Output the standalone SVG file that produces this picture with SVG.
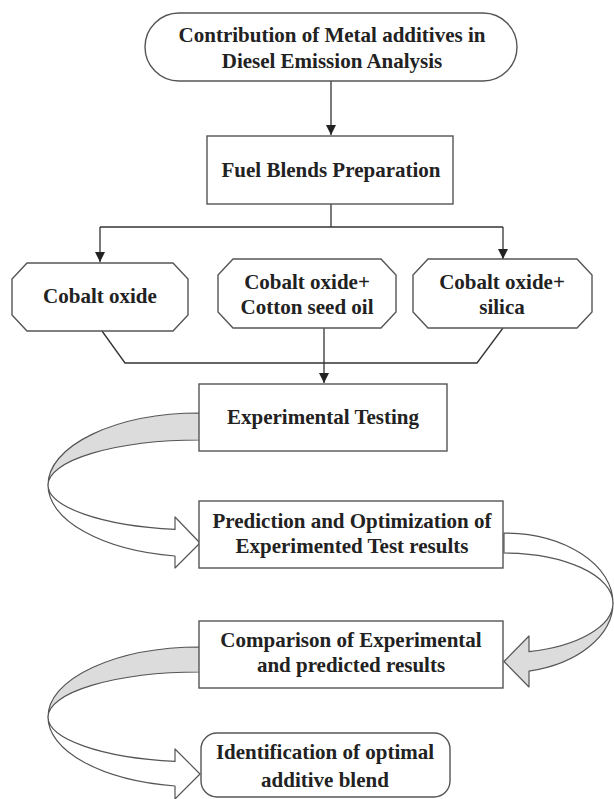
<svg xmlns="http://www.w3.org/2000/svg" width="614" height="799" viewBox="0 0 614 799">
<style>
.box{fill:#fff;stroke:#555;stroke-width:1.4}
.ln{fill:none;stroke:#333;stroke-width:1.3}
.band{stroke:#555;stroke-width:1.2;stroke-linejoin:round}
.g{fill:#dcdcdc}
.w{fill:#fff}
text{font-family:"Liberation Serif","Times New Roman",serif;font-weight:bold;font-size:21px;fill:#222;text-anchor:middle}
</style>
<defs>
<marker id="ah" markerUnits="userSpaceOnUse" markerWidth="10" markerHeight="12" viewBox="0 0 10 12" refX="10" refY="6" orient="auto">
<path d="M0,1 L10,6 L0,11 Z" fill="#222"/>
</marker>
</defs>
<rect width="614" height="799" fill="#fff"/>
<g id="connectors">
<line class="ln" x1="331" y1="81" x2="331" y2="135" marker-end="url(#ah)"/>
<line class="ln" x1="331" y1="204" x2="331" y2="227"/>
<line class="ln" x1="100" y1="227" x2="503" y2="227"/>
<line class="ln" x1="100" y1="227" x2="100" y2="262" marker-end="url(#ah)"/>
<line class="ln" x1="503" y1="227" x2="503" y2="259" marker-end="url(#ah)"/>
<polyline class="ln" points="102,331 125,363 477,363 503,328"/>
<line class="ln" x1="324" y1="328" x2="324" y2="383" marker-end="url(#ah)"/>
<g id="curved1">
<path class="band g" d="M200,413 A152,72 0 0 0 48,485 A152,45 0 0 1 200,440 Z"/>
<path class="band w" d="M48,485 A152,72 0 0 0 175,556 L175,568 L200,543 L175,517 L175,529.4 A152,45 0 0 1 48,485 Z"/>
</g>
<g id="curved2">
<path class="band w" d="M504,533 A109,70 0 0 1 613,603 A109,50 0 0 0 504,553 Z"/>
<path class="band g" d="M613,603 A109,70 0 0 1 529,671.1 L529,687 L504,661.5 L529,636 L529,651.7 A109,50 0 0 0 613,603 Z"/>
</g>
<g id="curved3">
<path class="band g" d="M200,647 A152,70 0 0 0 48,717 A152,45 0 0 1 200,672 Z"/>
<path class="band w" d="M48,717 A152,70 0 0 0 175,786 L175,799 L200,774 L175,749 L175,761.4 A152,45 0 0 1 48,717 Z"/>
</g>
</g>
<g id="n_start">
<rect class="box" x="145" y="13" width="372" height="68" rx="34"/>
<text x="332" y="42">Contribution of Metal additives in</text>
<text x="332" y="68">Diesel Emission Analysis</text>
</g>
<g id="n_fuel">
<rect class="box" x="207" y="136" width="246" height="68"/>
<text x="331" y="177">Fuel Blends Preparation</text>
</g>
<g id="n_co">
<polygon class="box" points="27,263 173,263 188,279 188,315 173,331 27,331 12,315 12,279"/>
<text x="100" y="303">Cobalt oxide</text>
</g>
<g id="n_cocs">
<polygon class="box" points="233,259 381,259 396,275 396,312 381,328 233,328 218,312 218,275"/>
<text x="307" y="289">Cobalt oxide+</text>
<text x="307" y="314">Cotton seed oil</text>
</g>
<g id="n_cosi">
<polygon class="box" points="428,259 577,259 592,275 592,312 577,328 428,328 413,312 413,275"/>
<text x="502" y="289">Cobalt oxide+</text>
<text x="502" y="314">silica</text>
</g>
<g id="n_exp">
<rect class="box" x="199" y="384" width="248" height="67"/>
<text x="323" y="424">Experimental Testing</text>
</g>
<g id="n_pred">
<rect class="box" x="199" y="501" width="304" height="67"/>
<text x="352" y="528">Prediction and Optimization of</text>
<text x="352" y="553">Experimented Test results</text>
</g>
<g id="n_comp">
<rect class="box" x="199" y="621" width="304" height="67"/>
<text x="351" y="647">Comparison of Experimental</text>
<text x="351" y="672">and predicted results</text>
</g>
<g id="n_ident">
<rect class="box" x="201" y="733" width="249" height="64" rx="16"/>
<text x="325" y="759">Identification of optimal</text>
<text x="325" y="787">additive blend</text>
</g>
</svg>
